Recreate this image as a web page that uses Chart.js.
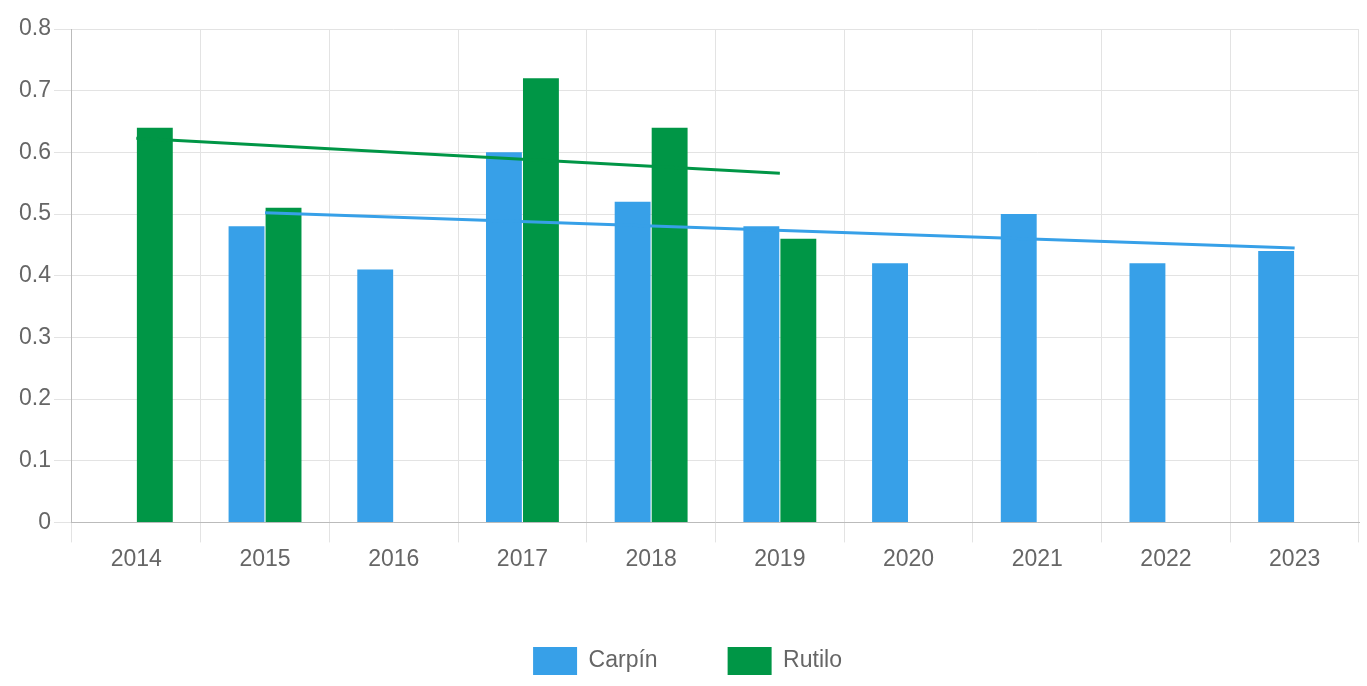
<!DOCTYPE html>
<html>
<head>
<meta charset="utf-8">
<script src="https://cdn.jsdelivr.net/npm/chart.js@4/dist/chart.umd.min.js"></script>
<style>
  html, body { margin: 0; padding: 0; background: #fff; }
  #wrap { width: 1367px; height: 686px; }
</style>
</head>
<body>
<div id="wrap"><canvas id="chart"></canvas></div>
<script>
// years on the x axis
const years = ['2014', '2015', '2016', '2017', '2018', '2019', '2020', '2021', '2022', '2023'];

// bar values
const carpin = [null, 0.48, 0.41, 0.60, 0.52, 0.48, 0.42, 0.50, 0.42, 0.44];
const rutilo = [0.64, 0.51, null, 0.72, 0.64, 0.46, null, null, null, null];

// trend lines, only start and end points
const carpinTrend = [null, 0.502, null, null, null, null, null, null, null, 0.445];
const rutiloTrend = [0.623, null, null, null, null, 0.566, null, null, null, null];

const blue = '#37a0e8';
const green = '#009646';
const fontFamily = 'Liberation Sans, Arial, sans-serif';

const ctx = document.getElementById('chart').getContext('2d');
const chart = new Chart(ctx, {
    type: 'bar',
    data: {
        labels: years,
        datasets: [
            {
                type: 'line',
                label: 'trend Carpín',
                data: carpinTrend,
                borderColor: blue,
                backgroundColor: blue,
                borderWidth: 3,
                pointRadius: 0,
                spanGaps: true,
                fill: false,
                order: 0
            },
            {
                type: 'line',
                label: 'trend Rutilo',
                data: rutiloTrend,
                borderColor: green,
                backgroundColor: green,
                borderWidth: 3,
                pointRadius: 0,
                spanGaps: true,
                fill: false,
                order: 0
            },
            {
                label: 'Carpín',
                data: carpin,
                backgroundColor: blue,
                categoryPercentage: 0.575,
                barPercentage: 0.97,
                order: 1
            },
            {
                label: 'Rutilo',
                data: rutilo,
                backgroundColor: green,
                categoryPercentage: 0.575,
                barPercentage: 0.97,
                order: 1
            }
        ]
    },
    options: {
        responsive: true,
        maintainAspectRatio: false,
        animation: false,
        layout: { padding: { top: 29, right: 8, left: 16, bottom: 1 } },
        plugins: {
            tooltip: { enabled: false },
            legend: {
                position: 'bottom',
                labels: {
                    color: '#666',
                    font: { size: 23, family: fontFamily },
                    boxWidth: 44,
                    boxHeight: 28,
                    padding: 70,
                    filter: item => !item.text.startsWith('trend')
                }
            }
        },
        scales: {
            x: {
                grid: { color: '#e3e3e3', tickLength: 20, offset: true },
                border: { color: '#bbb' },
                ticks: {
                    color: '#666',
                    font: { size: 23, family: fontFamily }
                },
                afterFit: axis => { axis.height += 1; }
            },
            y: {
                min: 0,
                max: 0.8,
                grid: { color: '#e3e3e3', tickLength: 18 },
                border: { color: '#bbb' },
                ticks: {
                    stepSize: 0.1,
                    color: '#666',
                    font: { size: 23, family: fontFamily }
                }
            }
        }
    }
});
</script>
</body>
</html>
